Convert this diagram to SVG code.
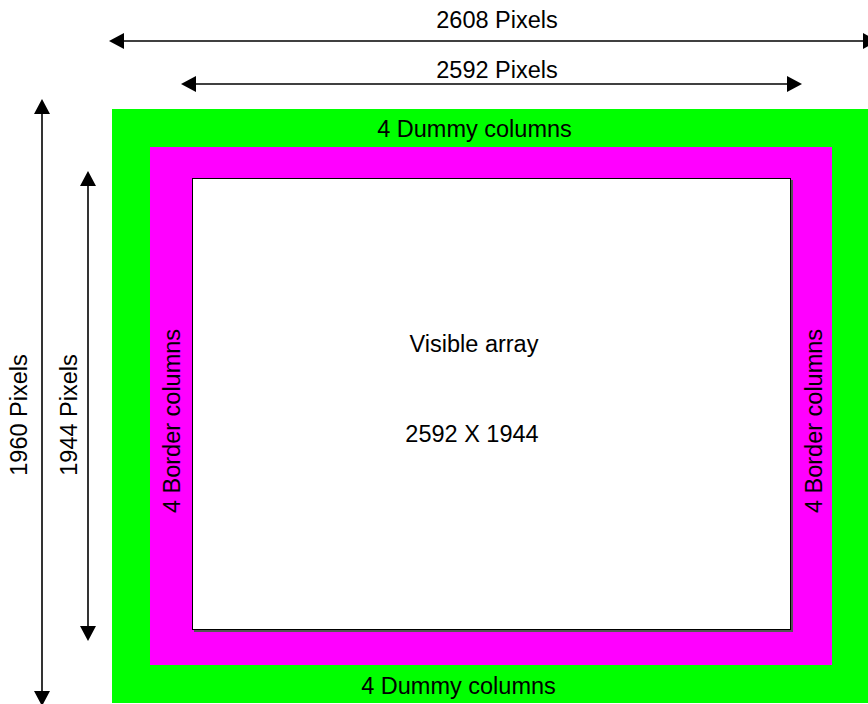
<svg xmlns="http://www.w3.org/2000/svg" width="868" height="704" viewBox="0 0 868 704">
  <style>
    text { font-family: "Liberation Sans", Arial, sans-serif; font-size: 23.5px; fill: #000; }
    .dim { stroke: #000; stroke-width: 1.6; fill: none; }
  </style>
  <defs>
    <marker id="ah" viewBox="0 0 15 16" refX="12" refY="8" markerWidth="15" markerHeight="16" markerUnits="userSpaceOnUse" orient="auto-start-reverse">
      <path d="M0,0 L15,8 L0,16 Z" fill="#000"/>
    </marker>
  </defs>
  <rect width="868" height="704" fill="#fff"/>

  <g id="dummy-frame">
    <rect x="112" y="109" width="760" height="594" fill="#00ff00"/>
    <text x="474.5" y="137" text-anchor="middle">4 Dummy columns</text>
    <text x="458.5" y="694" text-anchor="middle">4 Dummy columns</text>
  </g>

  <g id="border-frame">
    <rect x="150" y="147" width="682" height="518" fill="#ff00ff"/>
    <text transform="translate(180,421) rotate(-90)" text-anchor="middle">4 Border columns</text>
    <text transform="translate(822,421) rotate(-90)" text-anchor="middle">4 Border columns</text>
  </g>

  <g id="visible-array">
    <rect x="194" y="180" width="599" height="452" fill="#555"/>
    <rect x="192.5" y="178.5" width="598" height="451" fill="#fff" stroke="#000" stroke-width="1"/>
    <text x="474" y="352" text-anchor="middle">Visible array</text>
    <text x="472" y="442" text-anchor="middle">2592 X 1944</text>
  </g>

  <g id="connectors">
    <line class="dim" x1="112" y1="41" x2="875" y2="41" marker-start="url(#ah)" marker-end="url(#ah)"/>
    <line class="dim" x1="184" y1="84" x2="799" y2="84" marker-start="url(#ah)" marker-end="url(#ah)"/>
    <line class="dim" x1="42" y1="102" x2="42" y2="703" marker-start="url(#ah)" marker-end="url(#ah)"/>
    <line class="dim" x1="88" y1="174" x2="88" y2="638" marker-start="url(#ah)" marker-end="url(#ah)"/>
    <text x="497" y="28" text-anchor="middle">2608 Pixels</text>
    <text x="497" y="78" text-anchor="middle">2592 Pixels</text>
    <text transform="translate(27,415) rotate(-90)" text-anchor="middle">1960 Pixels</text>
    <text transform="translate(77,415) rotate(-90)" text-anchor="middle">1944 Pixels</text>
  </g>
</svg>
